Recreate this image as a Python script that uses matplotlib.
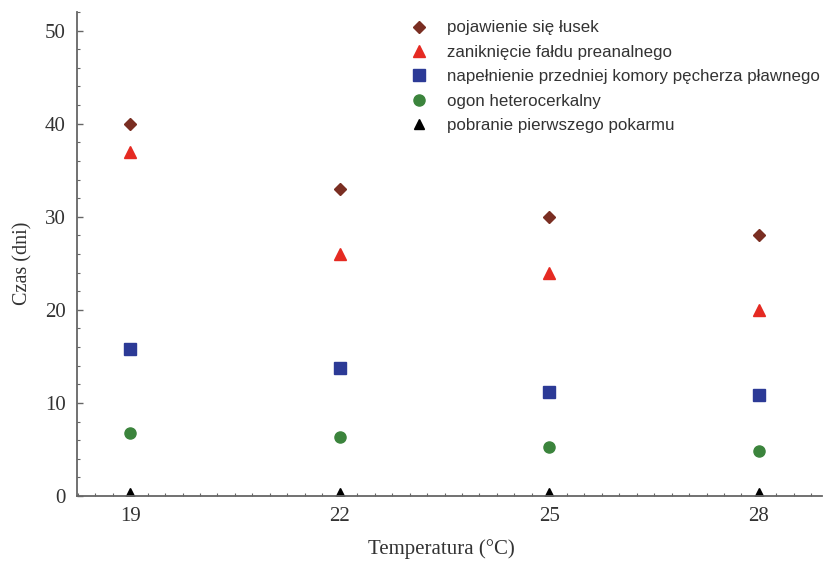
import matplotlib.pyplot as plt
from matplotlib.ticker import MultipleLocator

temps = [19, 22, 25, 28]
luski = [40, 33, 30, 28]
fald = [37, 26, 24, 20]
pecherz = [15.8, 13.8, 11.2, 10.8]
ogon = [6.8, 6.3, 5.3, 4.8]
pokarm = [0.3, 0.3, 0.3, 0.3]

labels = [
    "pojawienie się łusek",
    "zaniknięcie fałdu preanalnego",
    "napełnienie przedniej komory pęcherza pławnego",
    "ogon heterocerkalny",
    "pobranie pierwszego pokarmu",
]

fig = plt.figure(figsize=(8.23, 5.62), dpi=100)
ax = fig.add_axes([0.0936, 0.1174, 0.905, 0.8612])

series = [
    (luski, "D", "#7a2e22", 6.5),
    (fald, "^", "#e52a22", 8),
    (pecherz, "s", "#2c3a96", 8),
    (ogon, "o", "#3b843c", 8),
    (pokarm, "^", "black", 7),
]
for (vals, mk, col, ms), lab in zip(series, labels):
    ax.plot(temps, vals, ls="none", marker=mk, color=col, markersize=ms, label=lab)

ax.set_xlim(18.24, 28.9)
ax.set_ylim(0, 52)
ax.set_xticks(temps)
ax.set_yticks(range(0, 51, 10))
ax.xaxis.set_minor_locator(MultipleLocator(0.25))
ax.yaxis.set_minor_locator(MultipleLocator(2))

for s in ["top", "right"]:
    ax.spines[s].set_visible(False)
for s in ["left", "bottom"]:
    ax.spines[s].set_color("#666666")
    ax.spines[s].set_linewidth(1.3)

ax.tick_params(which="both", direction="in", colors="#666666", labelcolor="#333333")
ax.tick_params(which="major", length=4, width=1, pad=8)
ax.tick_params(which="minor", length=2, width=0.8)
for t in ax.get_xticklabels() + ax.get_yticklabels():
    t.set_family("Liberation Serif")
    t.set_fontsize(15)

ax.set_xlabel("Temperatura (°C)", family="Liberation Serif", fontsize=15, color="#333333", va="center")
ax.xaxis.set_label_coords(0.4886, -0.1095)
ax.set_ylabel("Czas (dni)", family="Liberation Serif", fontsize=14.5, color="#333333", va="center")
ax.yaxis.set_label_coords(-0.073, 0.481)

leg = ax.legend(
    loc="upper left",
    bbox_to_anchor=(400 / 823, 1 - 12 / 562),
    bbox_transform=fig.transFigure,
    frameon=False,
    prop={"family": "Liberation Sans", "size": 12.15},
    labelspacing=0.56,
    handletextpad=1.1,
    handlelength=1.2,
    borderpad=0,
)
for t in leg.get_texts():
    t.set_color("#333333")

fig.savefig("out.png", dpi=100)
